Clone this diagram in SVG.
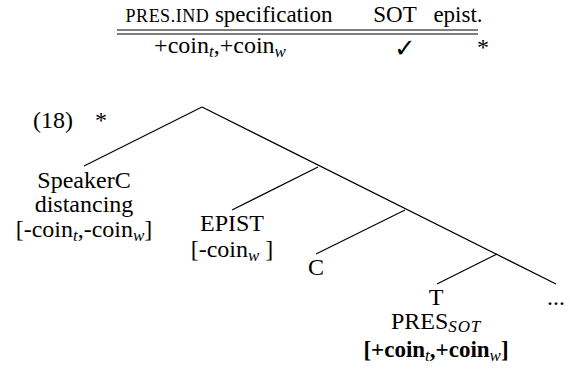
<svg xmlns="http://www.w3.org/2000/svg" width="570" height="369" viewBox="0 0 570 369">
<style>
  text { font-family: 'Liberation Serif', 'Times New Roman', Times, serif; font-size: 24px; fill: #000; text-anchor: middle; }
  .hd { font-size: 23px; }
  .sc { font-size: 18px; letter-spacing: 0.5px; }
  .sub { font-size: 17px; font-style: italic; font-weight: normal; }
  .b { font-weight: bold; font-size: 23px; }
  .chk { font-family: 'DejaVu Sans', sans-serif; font-size: 26px; font-weight: bold; }
  .edge { stroke: #000; stroke-width: 1.2; fill: none; }
  .rule { stroke: #000; stroke-width: 1; }
</style>
<rect width="570" height="369" fill="#fff"/>
<g id="table">
  <text class="hd" x="229" y="22"><tspan class="sc">PRES.IND</tspan> specification</text>
  <text class="hd" x="395" y="22">SOT</text>
  <text class="hd" x="458" y="22">epist.</text>
  <line class="rule" x1="117" y1="30" x2="478" y2="30"/>
  <line class="rule" x1="117" y1="34" x2="478" y2="34"/>
  <text x="220" y="53">+coin<tspan class="sub" dy="4">t</tspan><tspan dy="-4">,+coin</tspan><tspan class="sub" dy="4">w</tspan></text>
  <text class="chk" x="405" y="57">✓</text>
  <text x="483" y="55">*</text>
</g>
<g id="label">
  <text x="53" y="128">(18)</text>
  <text x="101" y="128">*</text>
</g>
<g id="connectors">
  <line class="edge" x1="202" y1="107" x2="84" y2="166"/>
  <line class="edge" x1="202" y1="107" x2="556" y2="284"/>
  <line class="edge" x1="318" y1="167" x2="232" y2="210"/>
  <line class="edge" x1="405" y1="210" x2="316" y2="254"/>
  <line class="edge" x1="497" y1="254" x2="437" y2="284"/>
</g>
<g id="speakerc">
  <text x="84" y="188">SpeakerC</text>
  <text x="84" y="212">distancing</text>
  <text x="84" y="237">[-coin<tspan class="sub" dy="4">t</tspan><tspan dy="-4">,-coin</tspan><tspan class="sub" dy="4">w</tspan><tspan dy="-4">]</tspan></text>
</g>
<g id="epist">
  <text x="232" y="231">EPIST</text>
  <text x="232" y="257">[-coin<tspan class="sub" dy="4">w</tspan><tspan dy="-4"> ]</tspan></text>
</g>
<g id="c">
  <text x="316" y="275">C</text>
</g>
<g id="t">
  <text x="436" y="305">T</text>
  <text x="436" y="329">PRES<tspan class="sub" dy="3" font-size="17" letter-spacing="0.8">SOT</tspan></text>
  <text class="b" x="436" y="357">[+coin<tspan class="sub" dy="4">t</tspan><tspan dy="-4">,+coin</tspan><tspan class="sub" dy="4">w</tspan><tspan dy="-4">]</tspan></text>
</g>
<g id="dots">
  <text x="556" y="305">...</text>
</g>
</svg>
